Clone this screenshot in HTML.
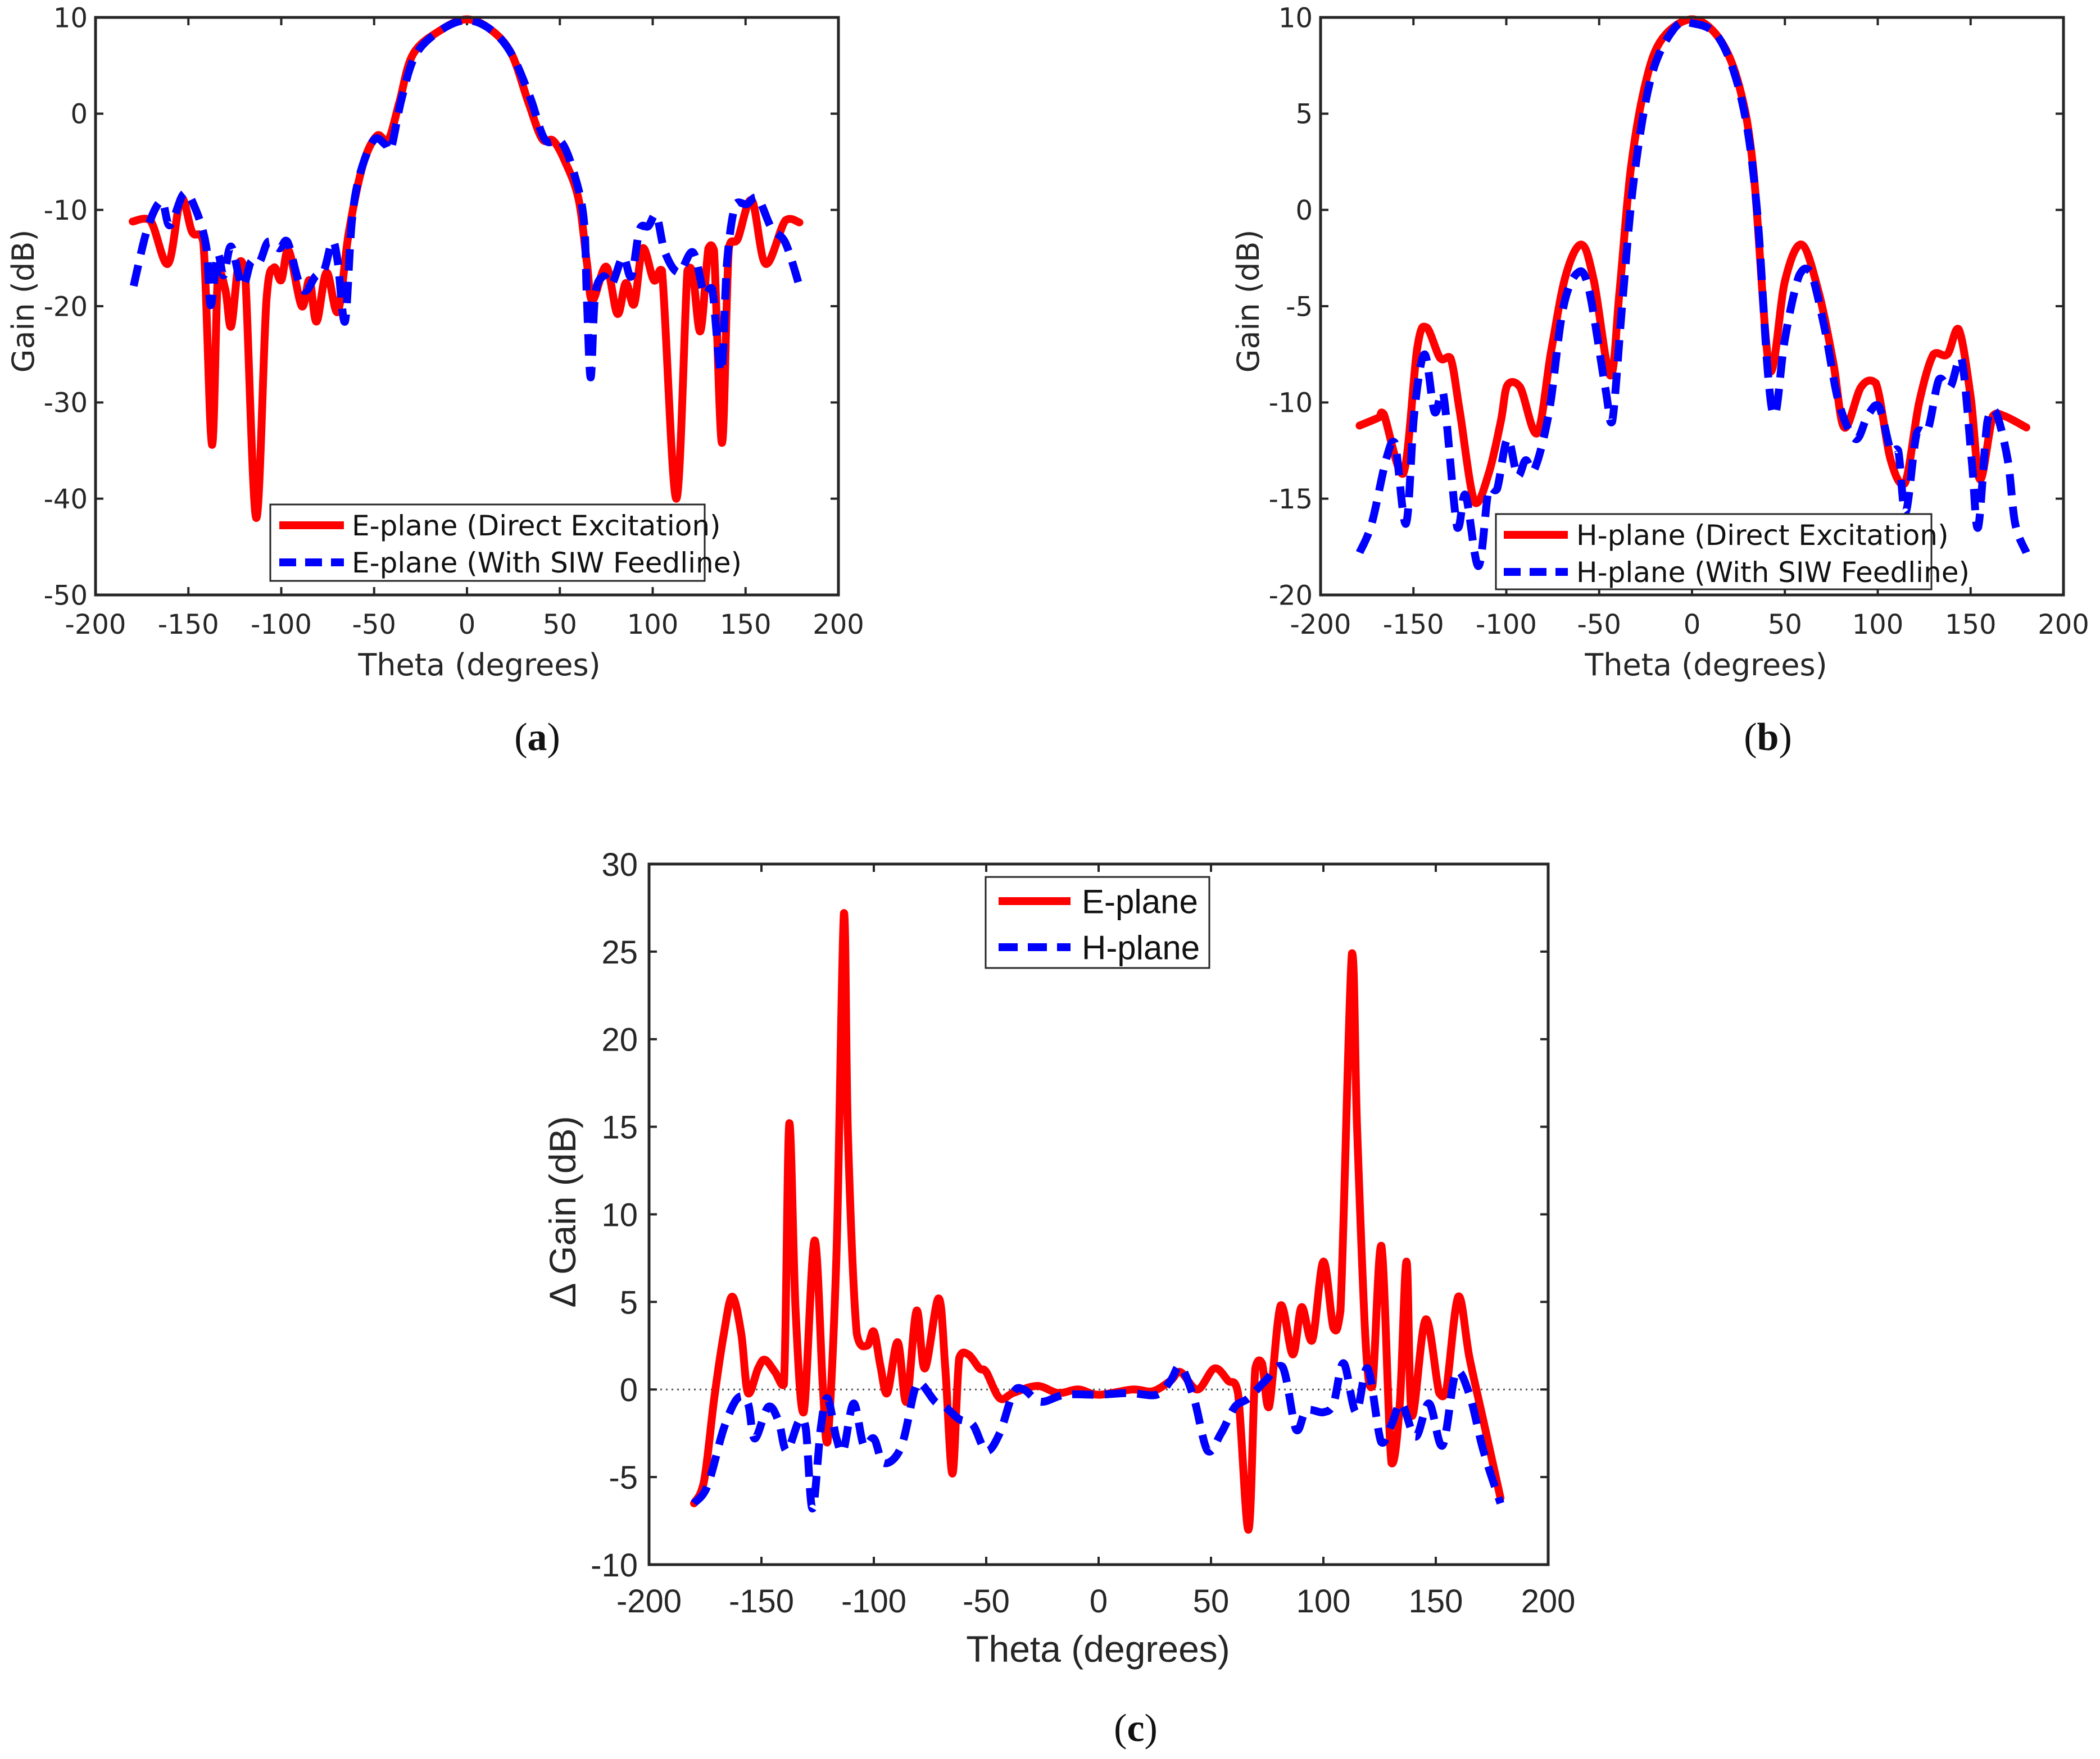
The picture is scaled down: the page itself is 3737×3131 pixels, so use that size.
<!DOCTYPE html>
<html><head><meta charset="utf-8"><title>Gain patterns</title>
<style>html,body{margin:0;padding:0;background:#fff}svg{display:block}</style></head>
<body>
<svg id="fig" xmlns="http://www.w3.org/2000/svg" width="3737" height="3131" viewBox="0 0 3737 3131"></svg>
<script>
// ---- Panel (a) E-plane ----
const aDirectTheta=[-180,-170.5,-161,-154,-148,-142,-137.3,-134,-130,-127,-123,-119.5,-113.5,-108,-104,-100,-96,-89,-84.8,-81,-75.6,-69.6,-63.6,-56,-48.5,-42.5,-36.4,-29,-14,0,13,24,33,40.4,46.4,52.4,60,64.5,67.5,75,81,85.5,90,94.6,100.6,105,112.7,118.7,121.7,125.7,130,133,137.3,141,145.8,153.3,160.8,171.4,179];
const aDirectGain=[-11.2,-11.1,-15.6,-8.8,-12.3,-13.3,-34.4,-16.4,-18.4,-22.1,-15.6,-16.4,-42,-19.4,-16,-17.3,-14.2,-20,-17.3,-21.6,-16.5,-20.6,-12.3,-5.3,-2.3,-2.8,1.2,6.2,8.7,9.8,8.7,6.2,1.2,-2.6,-2.8,-4.8,-8.8,-15.4,-19.4,-15.9,-20.8,-17.6,-19.8,-14,-17.3,-16.3,-40,-16.3,-16.8,-22.6,-14,-14.2,-34.2,-14,-13,-9,-15.6,-11.1,-11.3];
const aSiwTheta=[-179.5,-172,-164.5,-160,-152.4,-146.4,-140.4,-138,-134.3,-131,-127,-121,-116.3,-111.7,-107,-101,-96.7,-90.7,-86.7,-81.6,-77,-72.5,-69.6,-65.7,-62,-57.5,-50,-44,-41,-35,-27.4,-13.9,0,13,24,34,42,51,58.4,63,64.5,66.6,69,73.5,78,84,88.5,93,97.6,102,106.6,114,121.7,127.7,132,136.9,140,144.6,150.6,156.6,164,171.4,179];
const aSiwGain=[-17.9,-11.9,-9.1,-11.6,-8.3,-9.8,-13.8,-19.9,-14.6,-16.8,-13.8,-17.9,-15.4,-15.4,-13.3,-14,-13.3,-17.4,-18.4,-16.9,-16.3,-13.3,-15.4,-21.6,-11.2,-6.2,-2.7,-3.2,-3.7,1.7,6.2,8.7,9.7,8.7,6.2,1.7,-2.7,-3,-6.7,-11.2,-18.9,-27.4,-18.9,-16.9,-17.7,-14.9,-16.9,-12,-11.7,-10.6,-14.4,-16.5,-14.4,-18.7,-18.2,-26.8,-15.5,-9.4,-9.4,-8.8,-11.9,-13.4,-17.9];
const aXTicks=[-200,-150,-100,-50,0,50,100,150,200];
const aYTicks=[10,0,-10,-20,-30,-40,-50];

// ---- Panel (b) H-plane ----
const bDirectTheta=[-179,-169,-166,-155.5,-148,-143,-135.6,-130,-125,-117,-109.5,-103,-99.4,-92.6,-83.4,-75.8,-68,-59.5,-52.8,-44,-39,-33,-25,-16,0,14.7,25.5,33,42,50,59,68,76,82,91,99,107,114.6,122.3,130,137.5,143.6,150,155,162,168,180];
const bDirectGain=[-11.2,-10.8,-10.6,-13.7,-7.2,-6.1,-7.7,-7.7,-10.5,-15.2,-13.7,-11,-9.1,-9.2,-11.6,-7.3,-3.4,-1.8,-3.7,-8.6,-4.2,2.1,6.6,8.9,9.9,8.9,6.4,2.1,-8.4,-3.7,-1.8,-4.2,-7.9,-11.3,-9.2,-9,-13,-14.2,-10,-7.5,-7.5,-6.2,-9.7,-14,-10.7,-10.7,-11.3];
const bSiwTheta=[-179,-172.5,-164.8,-160,-154,-149.5,-144,-138.6,-134,-126.4,-122,-115,-109.5,-105,-99.4,-94,-89.6,-85,-77,-69.6,-62,-55.8,-46.6,-43,-37.4,-31.3,-22,-9.8,0,14.7,27,34.7,40.8,44.8,50,57.7,63.8,71.5,79,88,94.5,100.6,107,111,115,121,127,133,139,145,150.6,154,159,163.5,170,174,180];
const bSiwGain=[-17.8,-16.3,-13,-12.1,-16.3,-10.5,-7.5,-10.5,-9.5,-16.5,-14.8,-18.5,-14.5,-14.5,-11.9,-13.8,-13,-13.5,-10.5,-5.2,-3.3,-4,-9.3,-11,-4.7,1.6,6.9,9.4,9.7,8.9,5.6,0.3,-8.4,-10.6,-6.7,-3.4,-3.2,-6.2,-10,-11.9,-10.7,-10.2,-12.5,-12.5,-15.7,-11.6,-11.4,-8.8,-9.2,-7.7,-13,-16.5,-11,-10.5,-13,-16.3,-17.8];
const bXTicks=[-200,-150,-100,-50,0,50,100,150,200];
const bYTicks=[10,5,0,-5,-10,-15,-20];

// ---- Panel (c) Delta gain ----
const cETheta=[-180,-175.5,-171,-166.7,-163,-159,-156,-151.5,-148.5,-144,-140,-137.6,-134.8,-131.2,-126.4,-122.7,-120.6,-116.6,-113.3,-111.5,-107.6,-103,-100,-97,-94,-89.4,-85.5,-81,-77.3,-71.2,-68.2,-65,-62,-58,-53,-50,-44,-38,-27.3,-18,-9,0,15,24,32,36.4,44,51.5,57.6,62,66.7,69.7,72.7,75.8,81,86.4,90.3,95,100,104.5,107.6,112.7,115,118.8,121.8,125.8,130.3,134,137,139.4,145.5,151.5,154.5,160,165,171.2,178.8];
const cEDelta=[-6.5,-5.2,-0.5,3.2,5.3,3.2,-0.2,1.2,1.7,1,0.3,15.2,4.5,-1.3,8.5,0.2,-3,7.8,27.2,14.5,3.2,2.5,3.3,1.3,-0.2,2.7,-0.7,4.5,1.2,5.2,1.2,-4.8,1.8,2,1.2,1,-0.5,-0.2,0.2,-0.2,0,-0.3,0,-0.1,0.5,1,0,1.2,0.5,-0.2,-8,1.2,1.5,-1,4.8,2,4.7,2.8,7.3,3.5,4.5,24.9,14.9,2.7,0.2,8.2,-4.2,-0.8,7.3,-1.5,4,-0.2,-0.2,5.3,1.8,-1.8,-6.2];
const cHTheta=[-180,-174,-166.7,-160.6,-156,-153,-147,-142.4,-138.8,-133.3,-130.3,-127.3,-123.6,-120.6,-116.6,-113.6,-109,-104.5,-100,-95.5,-87.9,-81.8,-78.8,-72.7,-68.2,-62,-56,-50,-44,-38,-33.3,-25.8,-15,0,13.6,25.8,32,36.4,42.4,48.5,54.5,60.6,66.7,74.2,81.8,87.9,92.4,100,104.5,109,114.5,119.7,125.7,130.3,134.8,141,147,153,159,165,171.2,178.8];
const cHDelta=[-6.5,-5.5,-2.2,-0.5,-0.8,-2.8,-1,-1.8,-3.5,-1.8,-2.2,-6.8,-2.2,-0.5,-2.8,-3.5,-0.8,-3.2,-2.8,-4.2,-3.3,0,0.3,-0.7,-1,-1.7,-2,-3.5,-2.5,-0.2,0,-0.7,-0.3,-0.3,-0.2,-0.3,0.5,1.3,-0.5,-3.5,-2.5,-1,-0.5,0.5,1.3,-2.3,-1.2,-1.3,-0.8,1.5,-1.3,1.2,-3,-2,-0.8,-2.7,-0.8,-3.2,1,-0.3,-3.5,-6.5];
const cXTicks=[-200,-150,-100,-50,0,50,100,150,200];
const cYTicks=[30,25,20,15,10,5,0,-5,-10];

const NS='http://www.w3.org/2000/svg';
const svg=document.getElementById('fig');
function mk(tag,attrs,parent){const e=document.createElementNS(NS,tag);for(const k in attrs)e.setAttribute(k,attrs[k]);(parent||svg).appendChild(e);return e;}

function smoothPath(P){
  // Catmull-Rom to cubic Bezier with clamped y overshoot
  let d='M'+P[0][0].toFixed(1)+','+P[0][1].toFixed(1);
  for(let i=0;i<P.length-1;i++){
    const p0=P[i-1]||P[i],p1=P[i],p2=P[i+1],p3=P[i+2]||P[i+1];
    const k=1/6;
    let c1x=p1[0]+(p2[0]-p0[0])*k,c1y=p1[1]+(p2[1]-p0[1])*k;
    let c2x=p2[0]-(p3[0]-p1[0])*k,c2y=p2[1]-(p3[1]-p1[1])*k;
    const lo=Math.min(p1[1],p2[1]),hi=Math.max(p1[1],p2[1]);
    c1y=Math.max(lo-8,Math.min(hi+8,c1y));c2y=Math.max(lo-8,Math.min(hi+8,c2y));
    d+=` C${c1x.toFixed(1)},${c1y.toFixed(1)} ${c2x.toFixed(1)},${c2y.toFixed(1)} ${p2[0].toFixed(1)},${p2[1].toFixed(1)}`;
  }
  return d;
}

function drawPanel(p){
  const g=mk('g',{});
  
  
  const xs=v=>p.x0+(v-p.xmin)/(p.xmax-p.xmin)*(p.x1-p.x0);
  const ys=v=>p.y1-(v-p.ymin)/(p.ymax-p.ymin)*(p.y1-p.y0);
  const axc='#262626';
  if(p.zeroLine){
    const z=mk('line',{x1:p.x0,x2:p.x1,y1:ys(0),y2:ys(0),stroke:'#555',"stroke-width":3,"stroke-dasharray":'3,7'},g);
    
    
  }
  p.xticks.forEach(t=>{
    const x=xs(t);
    const tk=mk('path',{d:`M${x},${p.y1}v-14M${x},${p.y0}v14`,stroke:axc,"stroke-width":4},g);
    
    
    const tl=mk('text',{x:x,y:p.xtickY,"text-anchor":'middle',"font-size":p.fs,"font-family":p.ff,fill:axc},g);
    tl.textContent=String(t);
    
    
  });
  p.yticks.forEach(t=>{
    const y=ys(t);
    const tk=mk('path',{d:`M${p.x0},${y}h14M${p.x1},${y}h-14`,stroke:axc,"stroke-width":4},g);
    
    
    const tl=mk('text',{x:p.x0-p.ytickGap,y:y+p.fs*0.36,"text-anchor":'end',"font-size":p.fs,"font-family":p.ff,fill:axc},g);
    tl.textContent=String(t);
    
    
  });
  p.series.forEach(s=>{
    const pts=s.t.map((t,i)=>[xs(t),ys(s.v[i])]);
    const pl=mk('path',{d:smoothPath(pts),fill:'none',stroke:s.color,"stroke-width":14,"stroke-linejoin":'round',"stroke-linecap":s.dash?'butt':'round'},g);
    if(s.dash)pl.setAttribute('stroke-dasharray',s.dash);
    
    
  });
  const bx=mk('rect',{x:p.x0,y:p.y0,width:p.x1-p.x0,height:p.y1-p.y0,fill:'none',stroke:axc,"stroke-width":5},g);
  
  
  const xt=mk('text',{x:p.xlab[0],y:p.xlab[1],"text-anchor":'middle',"font-size":p.lfs,"font-family":p.ff,fill:axc},g);
  xt.textContent=p.xtitle;
  
  
  const yt=mk('text',{x:0,y:0,"text-anchor":'middle',"font-size":p.lfs,"font-family":p.ff,fill:axc,transform:`translate(${p.ylab[0]},${p.ylab[1]}) rotate(-90)`},g);
  yt.textContent=p.ytitle;
  
  
  const L=p.legend;
  const lg=mk('g',{},g);
  
  
  mk('rect',{x:L.x,y:L.y,width:L.w,height:L.h,fill:'#fff',stroke:axc,"stroke-width":3},lg);
  L.items.forEach(it=>{
    const e=mk('g',{},lg);
    
    
    const ly=it.y;
    const ln=mk('line',{x1:L.lx0,x2:L.lx1,y1:ly,y2:ly,stroke:it.color,"stroke-width":14},e);
    if(it.dash)ln.setAttribute('stroke-dasharray',it.dash);
    const tx=mk('text',{x:L.tx,y:ly+L.fs*0.36,"font-size":L.fs,"font-family":p.ff,fill:'#111'},e);
    tx.textContent=it.label;
  });
  const pl=mk('text',{x:p.plab[0],y:p.plab[1],"text-anchor":'middle',"font-size":70,"font-family":'"Liberation Serif",serif',fill:'#111'},g);
  
  
  const t1=mk('tspan',{},pl);t1.textContent='(';
  const t2=mk('tspan',{"font-weight":'bold'},pl);t2.textContent=p.letter;
  const t3=mk('tspan',{},pl);t3.textContent=')';
}

const tah='"DejaVu Sans","Liberation Sans",sans-serif';
const ari='"Liberation Sans",Arial,sans-serif';
const DASH='38,20';

drawPanel({name:'panel-a-e-plane',x0:170,x1:1492,y0:31,y1:1059,xmin:-200,xmax:200,ymin:-50,ymax:10,
  xticks:aXTicks,yticks:aYTicks,fs:48,ff:tah,xtickY:1128,ytickGap:14,lfs:54,
  xtitle:'Theta (degrees)',ytitle:'Gain (dB)',xlab:[853,1202],ylab:[60,536],
  series:[{t:aDirectTheta,v:aDirectGain,color:'#ff0000',name:'e-plane-direct-excitation-line'},
          {t:aSiwTheta,v:aSiwGain,color:'#0000ff',dash:DASH,name:'e-plane-siw-feedline-line'}],
  legend:{x:481,y:898,w:773,h:136,lx0:497,lx1:612,tx:626,fs:50,items:[
    {y:935,color:'#ff0000',label:'E-plane (Direct Excitation)'},
    {y:1001,color:'#0000ff',dash:'30,16',label:'E-plane (With SIW Feedline)'}]},
  plab:[956,1335],letter:'a'});

drawPanel({name:'panel-b-h-plane',x0:2350,x1:3672,y0:31,y1:1059,xmin:-200,xmax:200,ymin:-20,ymax:10,
  xticks:bXTicks,yticks:bYTicks,fs:48,ff:tah,xtickY:1128,ytickGap:14,lfs:54,
  xtitle:'Theta (degrees)',ytitle:'Gain (dB)',xlab:[3036,1202],ylab:[2240,536],
  series:[{t:bDirectTheta,v:bDirectGain,color:'#ff0000',name:'h-plane-direct-excitation-line'},
          {t:bSiwTheta,v:bSiwGain,color:'#0000ff',dash:DASH,name:'h-plane-siw-feedline-line'}],
  legend:{x:2662,y:915,w:775,h:134,lx0:2676,lx1:2790,tx:2805,fs:50,items:[
    {y:952,color:'#ff0000',label:'H-plane (Direct Excitation)'},
    {y:1018,color:'#0000ff',dash:'30,16',label:'H-plane (With SIW Feedline)'}]},
  plab:[3146,1335],letter:'b'});

drawPanel({name:'panel-c-delta-gain',x0:1155,x1:2755,y0:1538,y1:2785,xmin:-200,xmax:200,ymin:-10,ymax:30,
  xticks:cXTicks,yticks:cYTicks,fs:58,ff:ari,xtickY:2870,ytickGap:20,lfs:66,
  xtitle:'Theta (degrees)',ytitle:'\u0394 Gain (dB)',xlab:[1954,2958],ylab:[1024,2157],zeroLine:true,
  series:[{t:cETheta,v:cEDelta,color:'#ff0000',name:'e-plane-delta-line'},
          {t:cHTheta,v:cHDelta,color:'#0000ff',dash:DASH,name:'h-plane-delta-line'}],
  legend:{x:1754,y:1561,w:398,h:162,lx0:1777,lx1:1905,tx:1925,fs:60,items:[
    {y:1604,color:'#ff0000',label:'E-plane'},
    {y:1686,color:'#0000ff',dash:'34,18',label:'H-plane'}]},
  plab:[2021,3099],letter:'c'});
</script>
</body></html>
